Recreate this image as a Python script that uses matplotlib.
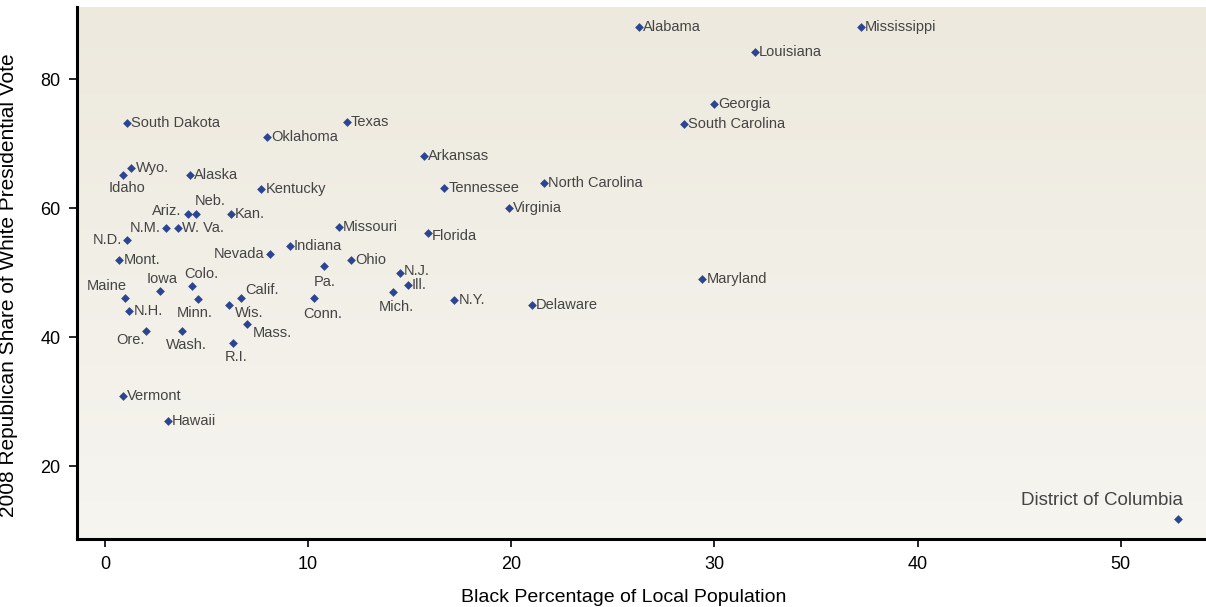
import matplotlib
matplotlib.use("Agg")
import matplotlib.pyplot as plt
import numpy as np

plt.rcParams["font.family"] = ["Liberation Sans", "DejaVu Sans"]

states = ["Alabama", "Mississippi", "Louisiana", "Georgia", "South Carolina",
          "Maryland", "Delaware", "District of Columbia", "North Carolina", "Virginia",
          "Arkansas", "Tennessee", "Florida", "Texas", "Oklahoma",
          "Kentucky", "Missouri", "Indiana", "Nevada", "Ohio",
          "Pa.", "N.J.", "Ill.", "Mich.", "N.Y.",
          "Conn.", "South Dakota", "Wyo.", "Idaho", "Alaska",
          "Ariz.", "Neb.", "Kan.", "N.M.", "W. Va.",
          "N.D.", "Mont.", "Maine", "Iowa", "Colo.",
          "Minn.", "Calif.", "Wis.", "N.H.", "Mass.",
          "Ore.", "Wash.", "R.I.", "Vermont", "Hawaii"]
black_pct = [26.3, 37.2, 32.0, 30.0, 28.5,
             29.4, 21.0, 52.8, 21.6, 19.9,
             15.7, 16.7, 15.9, 11.9, 8.0,
             7.7, 11.5, 9.1, 8.1, 12.1,
             10.8, 14.5, 14.9, 14.2, 17.2,
             10.3, 1.1, 1.3, 0.9, 4.2,
             4.1, 4.5, 6.2, 3.0, 3.6,
             1.1, 0.7, 1.0, 2.7, 4.3,
             4.6, 6.7, 6.1, 1.2, 7.0,
             2.0, 3.8, 6.3, 0.9, 3.1]
gop_white = [88.1, 88.1, 84.2, 76.1, 73.0,
             49.0, 45.0, 11.8, 63.9, 60.0,
             68.1, 63.1, 56.1, 73.3, 71.0,
             62.9, 57.1, 54.1, 52.9, 51.9,
             51.0, 49.9, 48.1, 47.0, 45.7,
             46.0, 73.2, 66.2, 65.1, 65.1,
             59.1, 59.1, 59.1, 56.9, 56.9,
             55.0, 51.9, 46.0, 47.1, 47.9,
             45.9, 46.0, 45.0, 44.0, 42.0,
             40.9, 40.9, 39.1, 30.9, 27.0]

# label placement: (dx, dy in points, ha, va); default is to the right
placement = {
    "Nevada": (-4, 0, "right", "center"),
    "Pa.": (0, -6, "center", "top"),
    "Mich.": (2, -6, "center", "top"),
    "Conn.": (6, -6, "center", "top"),
    "Idaho": (3, -4, "center", "top"),
    "Ariz.": (-5, 2, "right", "center"),
    "Neb.": (-1, 4, "left", "bottom"),
    "N.M.": (-4, 0, "right", "center"),
    "N.D.": (-4, 0, "right", "center"),
    "Maine": (1, 4, "right", "bottom"),
    "Iowa": (2, 4, "center", "bottom"),
    "Colo.": (-6, 4, "left", "bottom"),
    "Minn.": (-3, -5, "center", "top"),
    "Calif.": (3, 1, "left", "bottom"),
    "Wis.": (4, -1, "left", "top"),
    "Mass.": (4, -1, "left", "top"),
    "Ore.": (-1, -1, "right", "top"),
    "Wash.": (3, -5, "center", "top"),
    "R.I.": (2, -5, "center", "top"),
    "District of Columbia": (4, 7, "right", "bottom"),
    "N.J.": (3, 2, "left", "center"),
    "Florida": (3, -2, "left", "center"),
}

fig = plt.figure(figsize=(12.06, 6.07), dpi=100)
ax = fig.add_axes([0.0638, 0.112, 0.9362, 0.8765])

# warm gradient background
grad = np.linspace(0, 1, 256).reshape(-1, 1)
top = np.array([0.930, 0.914, 0.870])
bot = np.array([0.965, 0.960, 0.940])
img = top + (bot - top) * grad[:, :, None]
ax.imshow(img, extent=[0, 1, 0, 1], transform=ax.transAxes, aspect="auto", zorder=0)

ax.scatter(black_pct, gop_white, marker="D", s=20, color="#2B4590", zorder=3, linewidths=0)

for name, x, y in zip(states, black_pct, gop_white):
    dx, dy, ha, va = placement.get(name, (3, 0, "left", "center"))
    fs = 13.5 if name == "District of Columbia" else 10.5
    ax.annotate(name, (x, y), xytext=(dx, dy), textcoords="offset points",
                ha=ha, va=va, fontsize=fs, color="#444444", zorder=4)

ax.set_xlim(-1.38, 54.2)
ax.set_ylim(8.7, 91.2)
ax.set_xticks([0, 10, 20, 30, 40, 50])
ax.set_yticks([20, 40, 60, 80])
ax.tick_params(direction="out", length=6, width=1.2, labelsize=13, pad=6)
for s in ["top", "right"]:
    ax.spines[s].set_visible(False)
for s in ["left", "bottom"]:
    ax.spines[s].set_linewidth(2.2)
ax.set_xlabel("Black Percentage of Local Population", fontsize=14)
ax.set_ylabel("2008 Republican Share of White Presidential Vote", fontsize=15)
ax.xaxis.set_label_coords(0.4845, -0.094)
ax.yaxis.set_label_coords(-0.0525, 0.478)

fig.savefig("out.png", dpi=100)
